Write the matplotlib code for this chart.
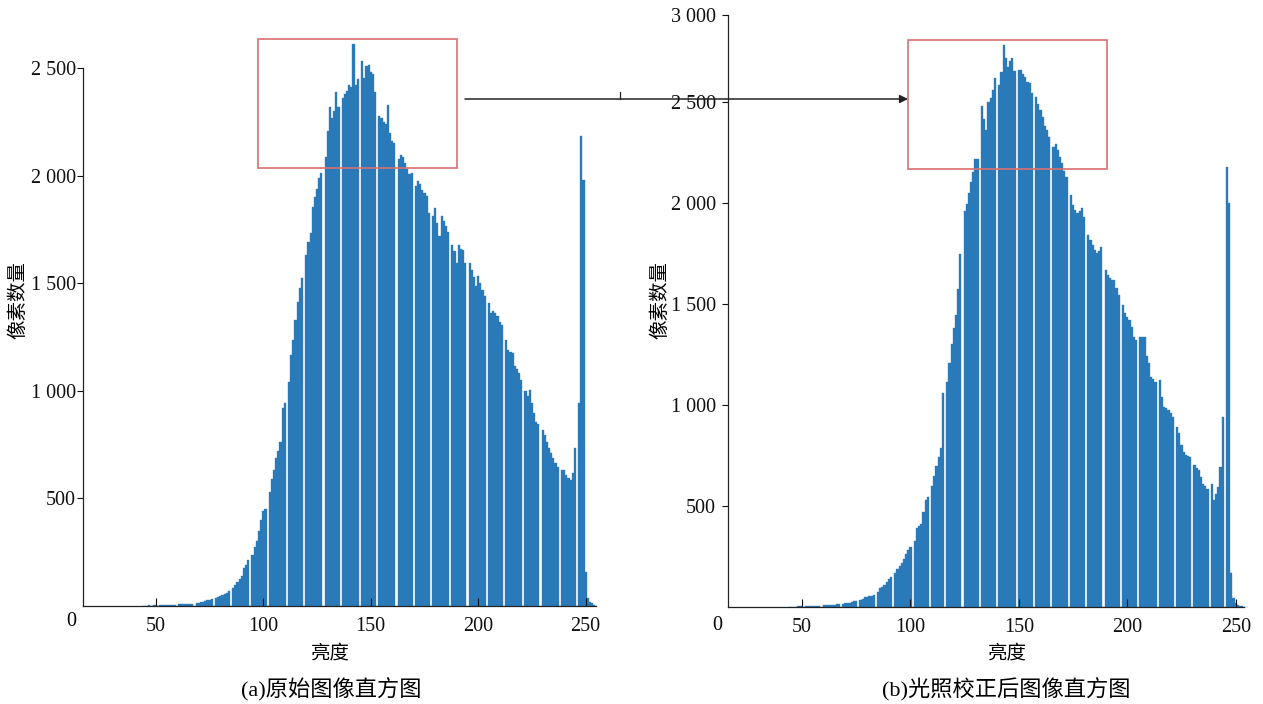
import matplotlib
matplotlib.use('Agg')
import matplotlib.pyplot as plt
from matplotlib.patches import Rectangle
from matplotlib.lines import Line2D
import numpy as np

plt.rcParams['font.family'] = ['Liberation Serif', 'Noto Sans CJK SC']

### Histogram counts, grey levels 44..255 (0 below 44)
first_bin = 44
counts_a = [1, 2, 2, 3, 2, 3, 3,
            0, 4, 3, 4, 5, 4, 5, 6, 6,
            0, 7, 7, 8, 7, 9, 10, 11,
            0, 12, 14, 17, 20, 22, 26, 28, 31,
            0, 36, 43, 46, 51, 55, 62, 70,
            0, 84, 98, 110, 125, 140, 175, 190, 215,
            0, 237, 276, 300, 350, 400, 440, 451,
            0, 528, 590, 630, 690, 720, 760, 920, 941,
            0, 1040, 1165, 1234, 1330, 1414, 1480, 1526,
            0, 1629, 1690, 1733, 1853, 1900, 1939, 1991, 2010,
            0, 2085, 2206, 2318, 2266, 2300, 2387, 2318,
            0, 2361, 2380, 2395, 2421, 2410, 2610, 2421, 2450,
            0, 2533, 2455, 2507, 2516, 2480, 2473, 2387,
            0, 2275, 2266, 2249, 2240, 2326, 2197, 2163, 2150,
            0, 2077, 2094, 2085, 2060, 2030, 2008, 2012,
            0, 1950, 1974, 1960, 1935, 1920, 1904, 1826,
            0, 1811, 1850, 1780, 1718, 1811, 1790, 1764, 1740,
            0, 1679, 1650, 1594, 1679, 1660, 1656, 1594,
            0, 1594, 1563, 1530, 1485, 1532, 1500, 1470, 1440,
            0, 1408, 1361, 1370, 1361, 1346, 1320, 1307,
            0, 1237, 1191, 1180, 1175, 1113, 1100, 1082, 1050,
            0, 997, 974, 1005, 943, 899, 857, 845,
            0, 819, 795, 764, 733, 710, 687, 664, 648,
            0, 633, 630, 609, 594, 586, 617, 733,
            0, 943, 2183, 1981, 160, 36, 20, 14, 5, 0]

counts_b = [1, 1, 2, 2, 3, 3, 3,
            0, 4, 4, 5, 5, 6, 6, 7,
            0, 8, 8, 9, 10, 11, 12, 13, 15,
            0, 16, 18, 20, 22, 25, 28, 32,
            0, 35, 42, 48, 51, 54, 56, 59,
            0, 76, 92, 100, 109, 125, 140, 150,
            0, 170, 190, 205, 218, 240, 262, 280, 295,
            0, 329, 389, 400, 410, 470, 531, 545,
            0, 600, 650, 700, 740, 787, 1060,
            0, 1116, 1208, 1300, 1380, 1446, 1574, 1749,
            0, 1959, 1996, 2050, 2105, 2151, 2215, 2215,
            0, 2481, 2417, 2362, 2499, 2518, 2560, 2618,
            0, 2582, 2650, 2783, 2719, 2673, 2700, 2719, 2655,
            0, 2658, 2658, 2637, 2625, 2600, 2592, 2543,
            0, 2526, 2490, 2460, 2427, 2380, 2361, 2328,
            0, 2279, 2290, 2260, 2229, 2196, 2160, 2130,
            0, 2040, 1990, 1965, 1949, 1960, 1973, 1932,
            0, 1841, 1817, 1790, 1767, 1750, 1760, 1784,
            0, 1668, 1644, 1627, 1620, 1619, 1580, 1545,
            0, 1495, 1454, 1437, 1420, 1388, 1338, 1322,
            0, 1338, 1338, 1338, 1240, 1206, 1140, 1130, 1115,
            0, 1123, 1041, 991, 985, 974, 960, 941,
            0, 892, 859, 800, 769, 752, 748, 744,
            0, 703, 690, 677, 644, 611, 600, 586,
            0, 611, 528, 561, 594, 693, 941,
            0, 2180, 1998, 167, 43, 18, 10, 6, 3, 0, 0]

x_ticks = [50, 100, 150, 200, 250]
y_ticks_a = [500, 1000, 1500, 2000, 2500]
y_labels_a = ['500', '1 000', '1 500', '2 000', '2 500']
# the top label of (b) sits lower than the scale would put it in the source
y_ticks_b = [500, 1000, 1500, 2000, 2500, 2930]
y_labels_b = ['500', '1 000', '1 500', '2 000', '2 500', '3 000']

zoom_box_a = (97.5, 2035, 92.6, 598)     # x, y, w, h in data units
zoom_box_b = (98.9, 2168, 91.7, 639)

captions = ['(a)原始图像直方图', '(b)光照校正后图像直方图']
x_name = '亮度'
y_name = '像素数量'

bar_color = '#2a79b8'
box_color = '#d9706f'

W, H = 1263, 704
def fpos(x, y):
    return x / W, 1 - y / H

fig = plt.figure(figsize=(W / 100, H / 100), dpi=100)
ax1 = fig.add_axes([82.8 / W, 1 - 606 / H, (596.4 - 82.8) / W, (606 - 68) / H])
ax2 = fig.add_axes([728.3 / W, 1 - 607 / H, (1244.4 - 728.3) / W, (607 - 15) / H])

def draw_hist(ax, counts, xlim, ylim, yt, ylab, box, ypad):
    bins = np.arange(first_bin, first_bin + len(counts))
    ax.bar(bins, counts, width=1.0, color=bar_color, edgecolor=bar_color,
           linewidth=0.25, clip_on=False)
    ax.set_xlim(*xlim)
    ax.set_ylim(*ylim)
    ax.spines['top'].set_visible(False)
    ax.spines['right'].set_visible(False)
    for s in ['left', 'bottom']:
        ax.spines[s].set_linewidth(0.9)
        ax.spines[s].set_color('#222222')
    ax.set_xticks(x_ticks)
    ax.set_xticklabels([str(t) for t in x_ticks])
    ax.set_yticks(yt)
    ax.set_yticklabels(ylab)
    ax.tick_params(axis='x', direction='in', length=6, width=0.8, pad=8,
                   labelsize=14.5, colors='#111111')
    ax.tick_params(axis='y', direction='out', length=4, width=0.8, pad=ypad,
                   labelsize=14.5, colors='#111111')
    ax.add_patch(Rectangle(box[:2], box[2], box[3], fill=False,
                           edgecolor=box_color, linewidth=1.2, clip_on=False))

draw_hist(ax1, counts_a, (16, 255), (0, 2500), y_ticks_a, y_labels_a, zoom_box_a, 1)
draw_hist(ax2, counts_b, (16, 254), (0, 2930), y_ticks_b, y_labels_b, zoom_box_b, 5)

### Corner zero labels
fig.text(*fpos(71, 622), '0', fontsize=14.5, ha='center', va='center')
fig.text(*fpos(717, 625), '0', fontsize=14.5, ha='center', va='center')

### Axis names and captions
fig.text(*fpos(18, 300), y_name, fontsize=14, rotation=90, ha='center', va='center')
fig.text(*fpos(660, 300), y_name, fontsize=14, rotation=90, ha='center', va='center')
fig.text(*fpos(330, 653), x_name, fontsize=14, ha='center', va='center')
fig.text(*fpos(1007, 653), x_name, fontsize=14, ha='center', va='center')
fig.text(*fpos(331, 690), captions[0], fontsize=16, ha='center', va='center')
fig.text(*fpos(1006, 690), captions[1], fontsize=16, ha='center', va='center')

### Arrow from box (a) to box (b)
fig.add_artist(Line2D([620 / W, 620 / W], [1 - 92 / H, 1 - 99 / H],
                      color='#222222', lw=0.9))
plt.annotate('', xy=fpos(908, 99), xytext=fpos(465, 99),
             xycoords='figure fraction', textcoords='figure fraction',
             arrowprops=dict(arrowstyle='-|>', color='#222222', lw=1.1,
                             mutation_scale=12, shrinkA=0, shrinkB=0))

plt.savefig('out.png', dpi=100)
